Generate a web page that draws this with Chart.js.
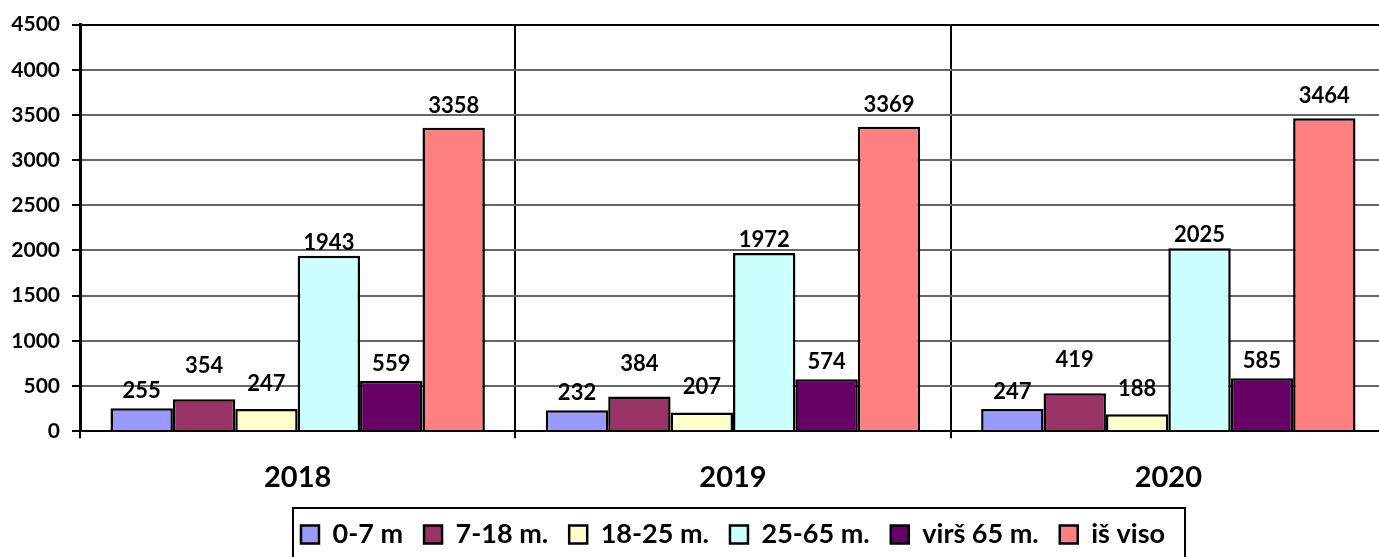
<!DOCTYPE html>
<html lang="lt">
<head>
<meta charset="UTF-8">
<title>Chart</title>
<style>
  html, body { margin: 0; padding: 0; background: #fff; overflow: hidden; }
  #wrap { position: relative; width: 1386px; height: 557px; }
</style>
</head>
<body>
<div id="wrap"><canvas id="chart"></canvas></div>
<script src="https://cdn.jsdelivr.net/npm/chart.js@4.4.1/dist/chart.umd.min.js"></script>
<script>
// data
const years = ['2018', '2019', '2020'];
const groupNames = ['0-7 m', '7-18 m.', '18-25 m.', '25-65 m.', 'virš 65 m.', 'iš viso'];
const age0to7 = [255, 232, 247];
const age7to18 = [354, 384, 419];
const age18to25 = [247, 207, 188];
const age25to65 = [1943, 1972, 2025];
const over65 = [559, 574, 585];
const total = [3358, 3369, 3464];
const yTicks = [0, 500, 1000, 1500, 2000, 2500, 3000, 3500, 4000, 4500];

// styles
const colors = ['#9999FF', '#993366', '#FFFFCC', '#CCFFFF', '#660066', '#FF8080'];
const labelLift = [10, 26, 18, 6, 10, 15];
const fontName = 'Lato, "Open Sans", sans-serif';

const series = [age0to7, age7to18, age18to25, age25to65, over65, total];

// numbers above bars
const valueLabels = {
    id: 'valueLabels',
    afterDatasetsDraw(chart) {
        const ctx = chart.ctx;
        ctx.save();
        ctx.font = 'bold 22px ' + fontName;
        ctx.fillStyle = '#000';
        ctx.textAlign = 'center';
        ctx.textBaseline = 'alphabetic';
        chart.data.datasets.forEach((ds, i) => {
            chart.getDatasetMeta(i).data.forEach((bar, j) => {
                ctx.fillText(String(ds.data[j]), bar.x, bar.y - labelLift[i]);
            });
        });
        ctx.restore();
    }
};

// frame around the legend
const legendFrame = {
    id: 'legendFrame',
    afterDraw(chart) {
        const boxes = chart.legend && chart.legend.legendHitBoxes;
        if (!boxes || !boxes.length) return;
        let left = Infinity, right = -Infinity, top = Infinity;
        boxes.forEach(b => {
            left = Math.min(left, b.left);
            right = Math.max(right, b.left + b.width);
            top = Math.min(top, b.top);
        });
        const ctx = chart.ctx;
        ctx.save();
        ctx.strokeStyle = '#000';
        ctx.lineWidth = 2;
        ctx.strokeRect(left - 8, top - 13, right - left + 28, 80);
        ctx.restore();
    }
};

const ctx = document.getElementById('chart');
new Chart(ctx, {
    type: 'bar',
    data: {
        labels: years,
        datasets: series.map((d, i) => ({
            label: groupNames[i],
            data: d,
            backgroundColor: colors[i],
            borderColor: '#000',
            borderWidth: 2.5,
            categoryPercentage: 0.86,
            barPercentage: 1
        }))
    },
    options: {
        responsive: true,
        maintainAspectRatio: false,
        animation: false,
        layout: { padding: { left: 10, right: 0, top: 18, bottom: -1 } },
        plugins: {
            tooltip: { enabled: false },
            legend: {
                position: 'bottom',
                fullSize: false,
                labels: {
                    color: '#000',
                    font: { family: fontName, size: 27, weight: 'bold' },
                    boxWidth: 18,
                    boxHeight: 18,
                    padding: 21
                }
            }
        },
        scales: {
            x: {
                offset: true,
                afterFit(axis) { axis.height -= 17; },
                grid: {
                    offset: true,
                    color: '#000',
                    lineWidth: 2,
                    tickLength: 7,
                    tickColor: '#000'
                },
                border: { color: '#000', width: 2 },
                ticks: {
                    color: '#000',
                    padding: 22,
                    font: { family: fontName, size: 29, weight: 'bold' }
                }
            },
            y: {
                min: 0,
                max: 4500,
                afterBuildTicks(axis) { axis.ticks = yTicks.map(v => ({ value: v })); },
                afterFit(axis) { axis.width = 70; },
                grid: {
                    color: c => c.index === yTicks.length - 1 ? '#000' : '#666',
                    lineWidth: 2,
                    tickLength: 8,
                    tickColor: '#000'
                },
                border: { color: '#000', width: 3 },
                ticks: {
                    color: '#000',
                    padding: 12,
                    callback: v => String(v),
                    font: { family: fontName, size: 21, weight: 'bold' }
                }
            }
        }
    },
    plugins: [valueLabels, legendFrame]
});
</script>
</body>
</html>
